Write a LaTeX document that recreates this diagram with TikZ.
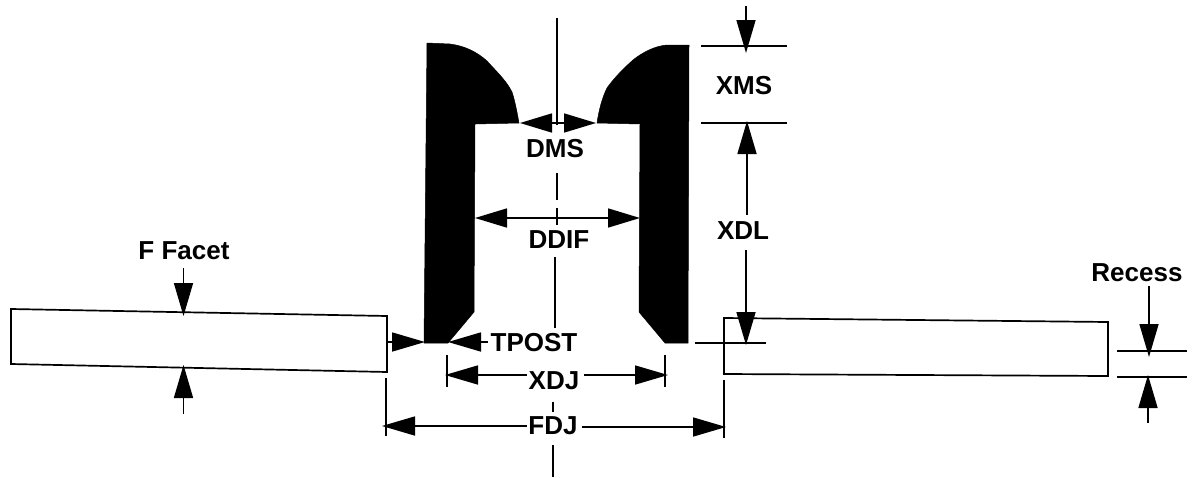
\documentclass[tikz,border=0pt]{standalone}
\usepackage{fontspec}
\setmainfont{Liberation Sans}
\usetikzlibrary{arrows.meta}
\tikzset{
  lbl/.style={font=\fontsize{26}{26}\selectfont\bfseries,inner sep=0pt,text=black},
  ln/.style={line width=1.6pt,draw=black},
  dim/.style={ln,-{Triangle[length=33pt,width=19pt,sep=0pt]}},
  dimb/.style={ln,{Triangle[length=32pt,width=19pt]}-{Triangle[length=32pt,width=19pt]}},
  cl/.style={line width=2pt,draw=black},
  facet/.style={line width=1.7pt,draw=black,fill=white},
  post/.style={fill=black,draw=black,line width=.5pt}
}
\begin{document}
\begin{tikzpicture}[x=1pt,y=-1pt]
\useasboundingbox (0,0) rectangle (1192,477);
% centre line
\draw[cl] (557,18) -- (557,125);
\draw[cl] (557,173) -- (557,200);
\draw[cl] (557,208) -- (557,225);
\draw[cl] (555,257) -- (555,328);
\draw[cl] (553,402) -- (553,412);
\draw[cl] (553,445) -- (553,477);
% posts
\draw[post] (427,43) -- (450,44) .. controls (465,46) and (477,52) .. (487,61)
  .. controls (495,70) and (506,80) .. (512,92)
  .. controls (515,101) and (517,112) .. (519,123)
  -- (475,124) -- (474,312) -- (448,343) -- (424,343) -- cycle;
\draw[post] (689,45) -- (667,45) .. controls (655,46) and (643,52) .. (633,60)
  .. controls (624,68) and (614,78) .. (607,88)
  .. controls (602,98) and (599,110) .. (597,123)
  -- (640,124) -- (639,312) -- (665,343) -- (688,343) -- cycle;
% facets
\draw[facet] (11,309) -- (387,316) -- (387,372) -- (11,364) -- cycle;
\draw[facet] (724,318) -- (1108,322) -- (1108,376) -- (724,374) -- cycle;
% coordinates
\coordinate (xmsA) at (701,46);  \coordinate (xmsB) at (787,46);
\coordinate (xmsC) at (701,123); \coordinate (xmsD) at (787,123);
\coordinate (xmsT) at (746,6);   \coordinate (xmsH) at (746,53);
\coordinate (xdlUs) at (747,215); \coordinate (xdlT) at (747,121);
\coordinate (xdlLs) at (746,250); \coordinate (xdlB) at (746,345);
\coordinate (xdlL) at (695,343); \coordinate (xdlR) at (766,343);
\coordinate (ffT) at (183.5,268);  \coordinate (ffH) at (183.5,316);
\coordinate (ffB) at (183.5,414);  \coordinate (ffI) at (183.5,365);
\coordinate (tpL) at (387,342);  \coordinate (tpLH) at (425,342);
\coordinate (tpR) at (488,342);  \coordinate (tpRH) at (448,342);
\coordinate (xdjLa) at (447,355);\coordinate (xdjLb) at (447,387);
\coordinate (xdjRa) at (665,355);\coordinate (xdjRb) at (665,387);
\coordinate (xdjLs) at (527,375);\coordinate (xdjRs) at (584,375);
\coordinate (xdjL) at (445,375); \coordinate (xdjR) at (668,375);
\coordinate (fdjLa) at (386,378);\coordinate (fdjLb) at (386,436);
\coordinate (fdjRa) at (724,380);\coordinate (fdjRb) at (724,438);
\coordinate (fdjLs) at (527,426);\coordinate (fdjRs) at (582,427);
\coordinate (fdjL) at (382,426); \coordinate (fdjR) at (726,427);
\coordinate (recA) at (1117,351);\coordinate (recB) at (1187,351);
\coordinate (recC) at (1117,377);\coordinate (recD) at (1187,377);
\coordinate (recT) at (1149,286);\coordinate (recH) at (1149,357);
\coordinate (recU) at (1148,423);\coordinate (recI) at (1148,375);
\coordinate (dmsL) at (520,123); \coordinate (dmsR) at (596,123);
\coordinate (ddifL) at (475,218);\coordinate (ddifR) at (640,218);
% extension lines
\draw[ln] (xmsA) -- (xmsB);
\draw[ln] (xmsC) -- (xmsD);
\draw[ln] (xdlL) -- (xdlR);
\draw[ln] (xdjLa) -- (xdjLb);
\draw[ln] (xdjRa) -- (xdjRb);
\draw[ln] (fdjLa) -- (fdjLb);
\draw[ln] (fdjRa) -- (fdjRb);
\draw[ln] (recA) -- (recB);
\draw[ln] (recC) -- (recD);
% labels
\node[lbl] (tXMS) at (744,86) {XMS};
\node[lbl] (tDMS) at (555,149) {DMS};
\node[lbl] (tDDIF) at (559,240) {DDIF};
\node[lbl] (tXDL) at (743,231) {XDL};
\node[lbl] (tFF) at (184,251) {F Facet};
\node[lbl] (tTP) at (534,343) {TPOST};
\node[lbl] (tXDJ) at (554,381) {XDJ};
\node[lbl] (tFDJ) at (553,426) {FDJ};
\node[lbl] (tRec) at (1137,273) {Recess};
% dimension arrows
\draw[dim] (xmsT) -- (xmsH);
\draw[dim] (xdlUs) -- (xdlT);
\draw[dim] (xdlLs) -- (xdlB);
\draw[dim] (ffT) -- (ffH);
\draw[dim] (ffB) -- (ffI);
\draw[dim] (tpL) -- (tpLH);
\draw[dim] (tpR) -- (tpRH);
\draw[dim] (xdjLs) -- (xdjL);
\draw[dim] (xdjRs) -- (xdjR);
\draw[dim] (fdjLs) -- (fdjL);
\draw[dim] (fdjRs) -- (fdjR);
\draw[dim] (recT) -- (recH);
\draw[dim] (recU) -- (recI);
\draw[dimb] (dmsL) -- (dmsR);
\draw[dimb] (ddifL) -- (ddifR);
\end{tikzpicture}
\end{document}
